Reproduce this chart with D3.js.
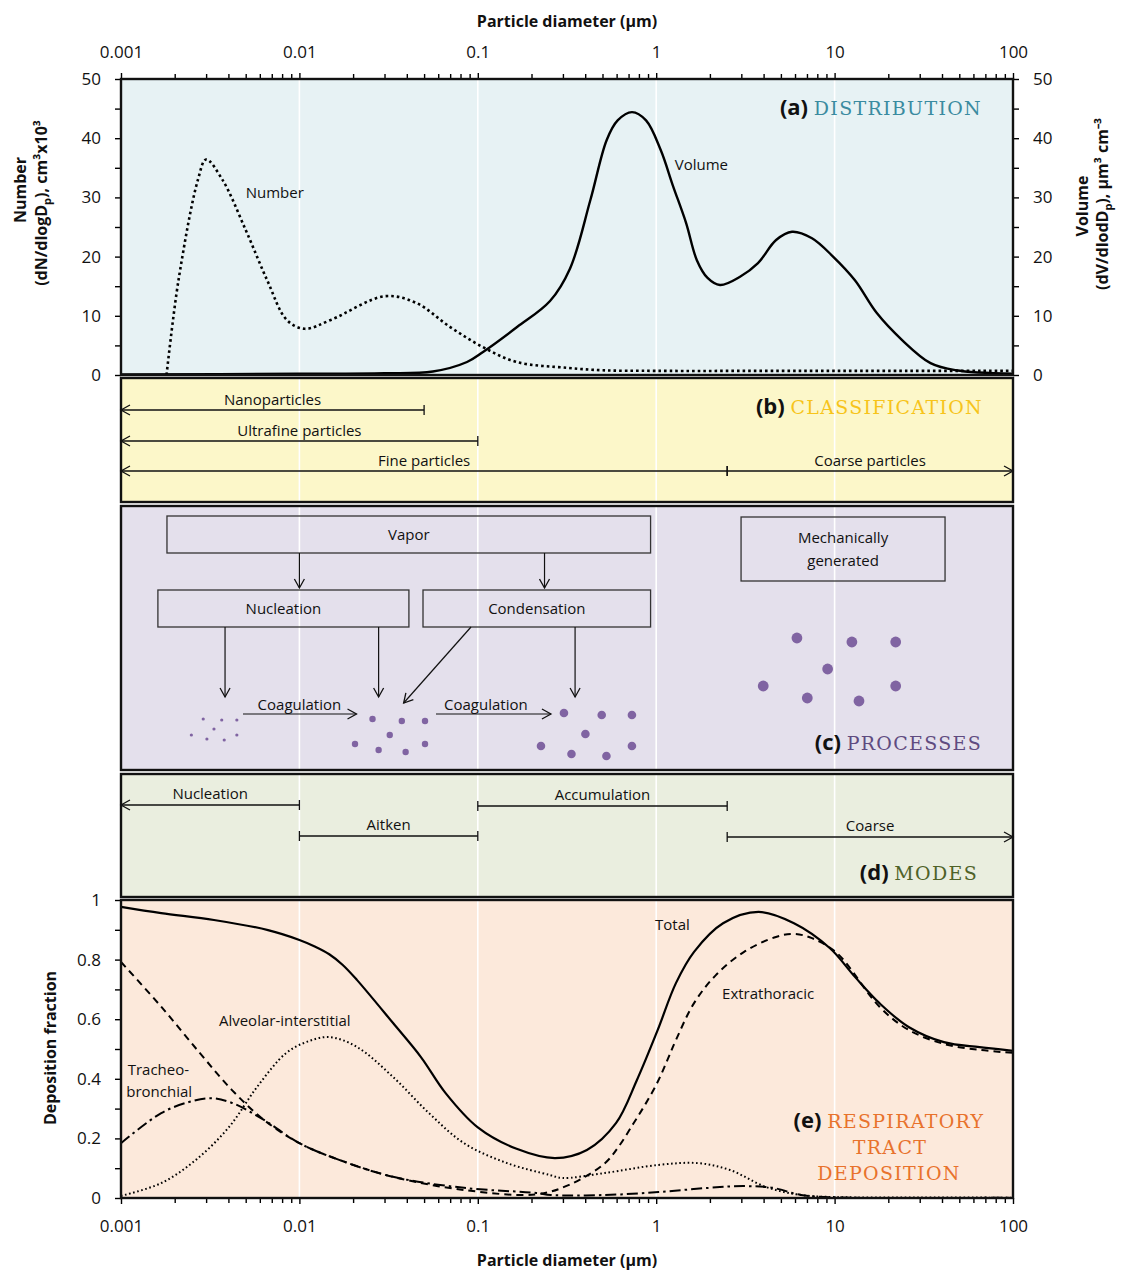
<!DOCTYPE html>
<html>
<head>
<meta charset="utf-8">
<script src="https://cdn.jsdelivr.net/npm/d3@7"></script>
<style>
  body { margin: 0; background: #fff; }
  svg text { font-family: "Open Sans", sans-serif; fill: #111; }
  .tick text { font-size: 17px; }
  .serif { font-family: "DejaVu Serif", serif !important; letter-spacing: 1.3px; }
</style>
</head>
<body>
<div id="chart"></div>
<script>
// decade ticks on the diameter axis
var decades = [0.001, 0.01, 0.1, 1, 10, 100];
var decadeLabels = ["0.001", "0.01", "0.1", "1", "10", "100"];

// (a) number distribution, dN/dlogDp (cm3 x10^3)
var numberDp  = [0.0018, 0.0021, 0.0027, 0.003, 0.0037, 0.005, 0.0066, 0.0085, 0.0107, 0.015, 0.03, 0.045, 0.07, 0.107, 0.165, 0.32, 0.5, 1, 5, 20, 100];
var numberVal = [0, 16, 33, 36.4, 33, 24.5, 16, 9.3, 7.8, 9.3, 13.3, 12.2, 8.1, 4.7, 2.2, 1.2, 0.8, 0.7, 0.7, 0.7, 0.7];

// (a) volume distribution, dV/dlogDp (um3 cm-3)
var volumeDp  = [0.001, 0.01, 0.03, 0.056, 0.087, 0.107, 0.166, 0.254, 0.329, 0.428, 0.528, 0.608, 0.732, 0.877, 1.06, 1.24, 1.47, 1.69, 1.94, 2.28, 2.95, 3.72, 4.7, 5.77, 7.47, 9.8, 13, 17.2, 23.9, 34.5, 47.8, 100];
var volumeVal = [0.1, 0.2, 0.3, 0.6, 2.2, 3.9, 8.1, 12.5, 18, 29.6, 39.7, 43, 44.4, 43, 38, 32, 25.7, 19.4, 16.4, 15.2, 16.6, 18.9, 22.8, 24.2, 23.1, 20, 16, 10.5, 5.9, 2.0, 0.8, 0.2];

// (b) classification ranges
var classNames = ["Nanoparticles", "Ultrafine particles", "Fine particles", "Coarse particles"];
var classFrom  = [0.001, 0.001, 0.001, 2.5];
var classTo    = [0.05, 0.1, 2.5, 100];
var classRow   = [0, 1, 2, 2];

// (d) modes
var modeNames = ["Nucleation", "Aitken", "Accumulation", "Coarse"];
var modeFrom  = [0.001, 0.01, 0.1, 2.5];
var modeTo    = [0.01, 0.1, 2.5, 100];
var modeRow   = [0, 1, 0, 1];

// (e) deposition fractions
var totalDp  = [0.001, 0.00168, 0.00332, 0.00667, 0.01, 0.0121, 0.0147, 0.0175, 0.021, 0.0335, 0.048, 0.066, 0.1, 0.165, 0.271, 0.409, 0.595, 0.78, 1.02, 1.29, 1.63, 2.37, 3.75, 5.92, 9.42, 13, 17.9, 26, 41, 65, 100];
var totalVal = [0.977, 0.956, 0.933, 0.899, 0.866, 0.845, 0.818, 0.782, 0.732, 0.587, 0.473, 0.352, 0.237, 0.165, 0.134, 0.161, 0.251, 0.396, 0.564, 0.721, 0.826, 0.922, 0.960, 0.922, 0.838, 0.742, 0.653, 0.574, 0.523, 0.506, 0.494];

var extraDp  = [0.001, 0.00168, 0.00277, 0.00419, 0.00633, 0.01, 0.0167, 0.0335, 0.0837, 0.21, 0.325, 0.516, 0.62, 0.747, 0.87, 1.02, 1.15, 1.29, 1.63, 2.16, 3.11, 4.69, 5.92, 7.47, 10.3, 17.9, 26, 41, 65, 100];
var extraVal = [0.792, 0.642, 0.486, 0.362, 0.262, 0.184, 0.128, 0.071, 0.027, 0.012, 0.044, 0.117, 0.175, 0.251, 0.315, 0.39, 0.46, 0.530, 0.654, 0.748, 0.826, 0.876, 0.886, 0.872, 0.822, 0.641, 0.564, 0.517, 0.497, 0.487];

var alvDp  = [0.001, 0.00168, 0.00263, 0.00403, 0.00578, 0.00841, 0.011, 0.0147, 0.021, 0.0335, 0.0532, 0.0837, 0.146, 0.254, 0.297, 0.516, 1.03, 1.71, 2.59, 4.12, 6.48, 10.3, 30, 100];
var alvVal = [0.007, 0.05, 0.128, 0.238, 0.372, 0.486, 0.524, 0.540, 0.507, 0.406, 0.285, 0.184, 0.117, 0.077, 0.067, 0.084, 0.111, 0.117, 0.094, 0.037, 0.01, 0.003, 0.002, 0.001];

var tbDp  = [0.001, 0.00168, 0.0024, 0.00319, 0.00419, 0.00633, 0.01, 0.0167, 0.0335, 0.0837, 0.212, 0.257, 0.516, 1.03, 1.97, 3.11, 4.51, 6.48, 10, 100];
var tbVal = [0.184, 0.285, 0.322, 0.335, 0.319, 0.262, 0.184, 0.128, 0.071, 0.034, 0.017, 0.01, 0.01, 0.02, 0.034, 0.04, 0.034, 0.01, 0.002, 0.001];

// (c) particles drawn in the process sketch: diameter position and height in panel
var smallDp  = [0.00289, 0.00367, 0.00446, 0.00332, 0.00248, 0.00303, 0.00379, 0.00446];
var smallH   = [213, 214, 214, 223, 229, 233, 234, 229];
var mediumDp = [0.0257, 0.0375, 0.0506, 0.0321, 0.0205, 0.0278, 0.0394, 0.0506];
var mediumH  = [213, 215, 215, 229, 238, 244, 246, 238];
var largeDp  = [0.304, 0.495, 0.731, 0.401, 0.226, 0.335, 0.526, 0.731];
var largeH   = [207, 209, 209, 228, 240, 248, 250, 240];
var coarseDp = [6.15, 12.5, 22.0, 9.14, 3.98, 7.03, 13.7, 22.0];
var coarseH  = [132, 136, 136, 163, 180, 192, 195, 180];

var width = 1124, height = 1270;
var left = 121, right = 1013;

var svg = d3.select("#chart").append("svg")
  .attr("width", width)
  .attr("height", height);

var x = d3.scaleLog().domain([0.001, 100]).range([left, right]);

var allTicks = [];
decades.slice(0, -1).forEach(function(d) {
  for (var k = 1; k < 10; k++) allTicks.push(d * k);
});
allTicks.push(100);
var minorTicks = allTicks.filter(t => decades.indexOf(t) < 0);

// markers: open chevron arrowhead
var defs = svg.append("defs");
defs.append("marker")
  .attr("id", "arrow")
  .attr("viewBox", "-1 -6 12 12")
  .attr("refX", 9).attr("refY", 0)
  .attr("markerWidth", 12).attr("markerHeight", 12)
  .attr("markerUnits", "userSpaceOnUse")
  .attr("orient", "auto-start-reverse")
  .append("path")
  .attr("d", "M0,-5 L9,0 L0,5")
  .attr("fill", "none")
  .attr("stroke", "#111")
  .attr("stroke-width", 1.3);

var panels = [
  {id: "a", top: 79,  bottom: 375,  fill: "#E7F2F4"},
  {id: "b", top: 378, bottom: 502,  fill: "#FCF7C9"},
  {id: "c", top: 506, bottom: 770,  fill: "#E4E0EC"},
  {id: "d", top: 774, bottom: 897,  fill: "#EAEEDF"},
  {id: "e", top: 900, bottom: 1198, fill: "#FCE9DB"}
];

var groups = {};
panels.forEach(function(p) {
  var g = svg.append("g").attr("class", "panel-" + p.id);
  g.append("rect")
    .attr("x", left).attr("y", p.top)
    .attr("width", right - left).attr("height", p.bottom - p.top)
    .attr("fill", p.fill);
  g.selectAll("line.grid")
    .data(decades.slice(1, -1))
    .enter().append("line")
    .attr("class", "grid")
    .attr("x1", d => x(d)).attr("x2", d => x(d))
    .attr("y1", p.top + 1).attr("y2", p.bottom - 1)
    .attr("stroke", "#fff").attr("stroke-width", 1.6);
  groups[p.id] = g;
});

// panel titles
function panelTitle(g, letter, words, color, xEnd, yBase) {
  var t = g.append("text")
    .attr("x", xEnd).attr("y", yBase)
    .attr("text-anchor", "end");
  t.append("tspan").text("(" + letter + ") ")
    .style("font-weight", "bold").style("font-size", "22px");
  t.append("tspan").attr("class", "serif").text(words)
    .style("font-size", "19px").style("fill", color);
  return t;
}

// ---------- (a) distribution ----------
var yA = d3.scaleLinear().domain([0, 50]).range([375, 79]);
var gA = groups.a;

var lineA = d3.line()
  .x(d => x(d[0]))
  .y(d => yA(d[1]))
  .curve(d3.curveCatmullRom.alpha(0.5));

gA.append("path")
  .datum(d3.zip(volumeDp, volumeVal))
  .attr("d", lineA)
  .attr("fill", "none").attr("stroke", "#000").attr("stroke-width", 2.4);

gA.append("path")
  .datum(d3.zip(numberDp, numberVal))
  .attr("d", lineA)
  .attr("fill", "none").attr("stroke", "#000").attr("stroke-width", 2.6)
  .attr("stroke-dasharray", "2.6,3");

gA.append("text").attr("x", x(0.005)).attr("y", 198).style("font-size", "15px").text("Number");
gA.append("text").attr("x", x(1.27)).attr("y", 170).style("font-size", "15px").text("Volume");

panelTitle(gA, "a", "DISTRIBUTION", "#3A8BA0", 982, 115);

// axes for (a)
function styleAxis(g) {
  g.select(".domain").remove();
  g.selectAll(".tick line").attr("stroke", "#000").attr("stroke-width", 1.4);
}

svg.append("g")
  .attr("transform", "translate(0,79)")
  .call(d3.axisTop(x).tickValues(minorTicks).tickSize(5).tickFormat(""))
  .call(styleAxis);
svg.append("g")
  .attr("transform", "translate(0,79)")
  .call(d3.axisTop(x).tickValues(decades).tickSize(6).tickPadding(15)
    .tickFormat((d, i) => decadeLabels[i]))
  .call(styleAxis);

var yATicks = d3.range(0, 51, 5);
svg.append("g")
  .attr("transform", "translate(" + left + ",0)")
  .call(d3.axisLeft(yA).tickValues(yATicks).tickSize(6).tickPadding(14)
    .tickFormat(d => d % 10 === 0 ? d : ""))
  .call(styleAxis);
svg.append("g")
  .attr("transform", "translate(" + right + ",0)")
  .call(d3.axisRight(yA).tickValues(yATicks).tickSize(6).tickPadding(14)
    .tickFormat(d => d % 10 === 0 ? d : ""))
  .call(styleAxis);

// axis titles
svg.append("text")
  .attr("x", 567).attr("y", 27)
  .attr("text-anchor", "middle")
  .style("font-weight", "bold").style("font-size", "16px")
  .text("Particle diameter (\u00b5m)");

function rotTitle(cx, cy) {
  return svg.append("text")
    .attr("transform", "translate(" + cx + "," + cy + ") rotate(-90)")
    .attr("text-anchor", "middle")
    .attr("dy", "0.35em")
    .style("font-weight", "bold").style("font-size", "16px");
}
rotTitle(20, 190).text("Number");
var t2 = rotTitle(41, 203);
t2.append("tspan").text("(dN/dlogD");
t2.append("tspan").attr("dy", 4).style("font-size", "11px").text("p");
t2.append("tspan").attr("dy", -4).text("), cm\u00b3x10\u00b3");

rotTitle(1082, 206).text("Volume");
var t3 = rotTitle(1102, 204);
t3.append("tspan").text("(dV/dlodD");
t3.append("tspan").attr("dy", 4).style("font-size", "11px").text("p");
t3.append("tspan").attr("dy", -4).text("), \u00b5m\u00b3 cm\u207b\u00b3");

// ---------- range arrows for (b) and (d) ----------
function drawRanges(g, names, from, to, rowY, labelGap) {
  names.forEach(function(name, i) {
    var y = rowY[i];
    var x1 = x(from[i]), x2 = x(to[i]);
    var ln = g.append("line")
      .attr("x1", x1).attr("x2", x2).attr("y1", y).attr("y2", y)
      .attr("stroke", "#111").attr("stroke-width", 1.3);
    if (from[i] <= 0.001) ln.attr("marker-start", "url(#arrow)");
    else g.append("line").attr("x1", x1).attr("x2", x1).attr("y1", y - 5).attr("y2", y + 5)
      .attr("stroke", "#111").attr("stroke-width", 1.3);
    if (to[i] >= 100) ln.attr("marker-end", "url(#arrow)");
    else g.append("line").attr("x1", x2).attr("x2", x2).attr("y1", y - 5).attr("y2", y + 5)
      .attr("stroke", "#111").attr("stroke-width", 1.3);
    g.append("text")
      .attr("x", (x1 + x2) / 2).attr("y", y - labelGap)
      .attr("text-anchor", "middle")
      .style("font-size", "15px")
      .text(name);
  });
}

var gB = groups.b;
var classRowY = [410, 441, 471];
drawRanges(gB, classNames, classFrom, classTo, classRow.map(r => classRowY[r]), 5);
panelTitle(gB, "b", "CLASSIFICATION", "#F7C41A", 983, 414);

var gD = groups.d;
var modeRowY = [805, 836];
drawRanges(gD, modeNames, modeFrom, modeTo, modeRow.map((r, i) => modeRowY[r] + (i >= 2 ? 1 : 0)), 6);
panelTitle(gD, "d", "MODES", "#4F6228", 978, 880);

// ---------- (c) processes ----------
var gC = groups.c;
var cTop = 506;
var boxes = [
  {text: ["Vapor"], from: 0.00181, to: 0.93, y0: 516, y1: 553},
  {text: ["Nucleation"], from: 0.00161, to: 0.0411, y0: 590, y1: 627},
  {text: ["Condensation"], from: 0.0493, to: 0.93, y0: 590, y1: 627},
  {text: ["Mechanically", "generated"], from: 2.99, to: 41.6, y0: 517, y1: 581}
];
boxes.forEach(function(b) {
  gC.append("rect")
    .attr("x", x(b.from)).attr("y", b.y0)
    .attr("width", x(b.to) - x(b.from)).attr("height", b.y1 - b.y0)
    .attr("fill", "none").attr("stroke", "#333").attr("stroke-width", 1.3);
  var cx = (x(b.from) + x(b.to)) / 2;
  var cy = (b.y0 + b.y1) / 2;
  b.text.forEach(function(s, i) {
    gC.append("text")
      .attr("x", cx).attr("y", cy + (i - (b.text.length - 1) / 2) * 23)
      .attr("dy", "0.35em")
      .attr("text-anchor", "middle")
      .style("font-size", "15px")
      .text(s);
  });
});

// arrows of the sketch: [from diameter, from y, to diameter, to y]
var flows = [
  [0.01, 553, 0.01, 588],
  [0.2366, 553, 0.2366, 588],
  [0.00383, 627, 0.00383, 697],
  [0.0278, 627, 0.0278, 697],
  [0.0916, 627, 0.0384, 703],
  [0.351, 627, 0.351, 697],
  [0.00483, 714, 0.0209, 714],
  [0.0583, 714, 0.257, 714]
];
flows.forEach(function(f) {
  gC.append("line")
    .attr("x1", x(f[0])).attr("y1", f[1])
    .attr("x2", x(f[2])).attr("y2", f[3])
    .attr("stroke", "#111").attr("stroke-width", 1.2)
    .attr("marker-end", "url(#arrow)");
});
gC.append("text").attr("x", x(0.01)).attr("y", 710).attr("text-anchor", "middle")
  .style("font-size", "15px").text("Coagulation");
gC.append("text").attr("x", x(0.111)).attr("y", 710).attr("text-anchor", "middle")
  .style("font-size", "15px").text("Coagulation");

var dotSets = [
  {dp: smallDp, h: smallH, r: 1.6},
  {dp: mediumDp, h: mediumH, r: 3.2},
  {dp: largeDp, h: largeH, r: 4.3},
  {dp: coarseDp, h: coarseH, r: 5.4}
];
dotSets.forEach(function(s) {
  gC.selectAll(null)
    .data(d3.zip(s.dp, s.h))
    .enter().append("circle")
    .attr("cx", d => x(d[0]))
    .attr("cy", d => cTop + d[1])
    .attr("r", s.r)
    .attr("fill", "#8064A2");
});
panelTitle(gC, "c", "PROCESSES", "#5F4B80", 982, 750);

// ---------- (e) respiratory deposition ----------
var yE = d3.scaleLinear().domain([0, 1]).range([1198, 900]);
var gE = groups.e;
var lineE = d3.line()
  .x(d => x(d[0]))
  .y(d => yE(d[1]))
  .curve(d3.curveCatmullRom.alpha(0.5));

var depSeries = [
  {dp: tbDp, val: tbVal, dash: "11,4,2.5,4", w: 2},
  {dp: alvDp, val: alvVal, dash: "1.6,2.6", w: 2},
  {dp: extraDp, val: extraVal, dash: "7,5", w: 2},
  {dp: totalDp, val: totalVal, dash: null, w: 2.2}
];
depSeries.forEach(function(s) {
  gE.append("path")
    .datum(d3.zip(s.dp, s.val))
    .attr("d", lineE)
    .attr("fill", "none").attr("stroke", "#000")
    .attr("stroke-width", s.w)
    .attr("stroke-dasharray", s.dash);
});

var eLabels = [
  ["Total", 0.985, 930],
  ["Extrathoracic", 2.34, 999],
  ["Alveolar-interstitial", 0.00354, 1026],
  ["Tracheo-", 0.00109, 1075],
  ["bronchial", 0.00107, 1097]
];
eLabels.forEach(function(l) {
  gE.append("text").attr("x", x(l[1])).attr("y", l[2])
    .style("font-size", "15px").text(l[0]);
});

var eTitle = gE.append("text").attr("text-anchor", "middle");
eTitle.append("tspan").attr("x", 889).attr("y", 1128)
  .style("font-weight", "bold").style("font-size", "22px").text("(e) ");
eTitle.append("tspan").attr("class", "serif")
  .style("font-size", "19px").style("fill", "#E8722C").text("RESPIRATORY");
gE.append("text").attr("class", "serif").attr("x", 890).attr("y", 1154)
  .attr("text-anchor", "middle").style("font-size", "19px").style("fill", "#E8722C").text("TRACT");
gE.append("text").attr("class", "serif").attr("x", 889).attr("y", 1180)
  .attr("text-anchor", "middle").style("font-size", "19px").style("fill", "#E8722C").text("DEPOSITION");

svg.append("g")
  .attr("transform", "translate(" + left + ",0)")
  .call(d3.axisLeft(yE).tickValues(d3.range(0, 11).map(i => i / 10)).tickSize(6).tickPadding(14)
    .tickFormat(d => Math.round(d * 10) % 2 === 0 ? d3.format("~g")(d) : ""))
  .call(styleAxis);

svg.append("g")
  .attr("transform", "translate(0,1198)")
  .call(d3.axisBottom(x).tickValues(minorTicks).tickSize(5).tickFormat(""))
  .call(styleAxis);
svg.append("g")
  .attr("transform", "translate(0,1198)")
  .call(d3.axisBottom(x).tickValues(decades).tickSize(6).tickPadding(16)
    .tickFormat((d, i) => decadeLabels[i]))
  .call(styleAxis);

svg.append("text")
  .attr("x", 567).attr("y", 1266)
  .attr("text-anchor", "middle")
  .style("font-weight", "bold").style("font-size", "16px")
  .text("Particle diameter (\u00b5m)");

rotTitle(50, 1048).text("Deposition fraction");

// panel frames on top
panels.forEach(function(p) {
  svg.append("rect")
    .attr("x", left).attr("y", p.top)
    .attr("width", right - left).attr("height", p.bottom - p.top)
    .attr("fill", "none").attr("stroke", "#111").attr("stroke-width", 2.4);
});
</script>
</body>
</html>
